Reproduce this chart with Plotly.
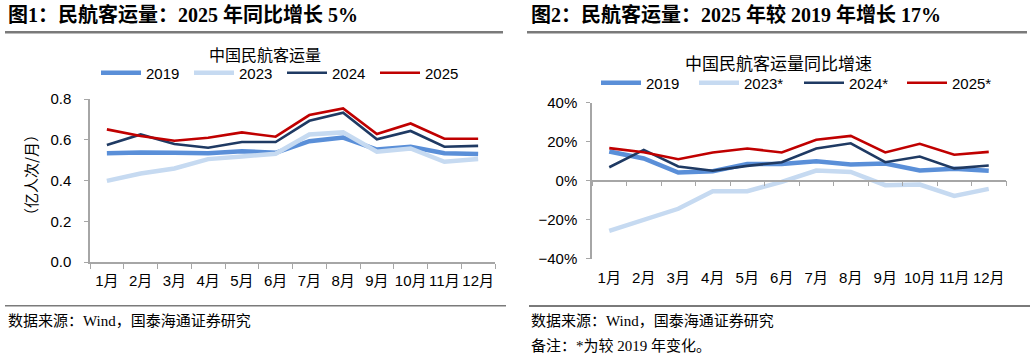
import plotly.graph_objects as go

months = ["1月", "2月", "3月", "4月", "5月", "6月", "7月", "8月", "9月", "10月", "11月", "12月"]

# 图1: 民航客运量 (亿人次/月)
vol_2019 = [0.534, 0.538, 0.536, 0.534, 0.544, 0.536, 0.593, 0.611, 0.552, 0.566, 0.534, 0.530]
vol_2023 = [0.398, 0.434, 0.459, 0.505, 0.518, 0.531, 0.626, 0.636, 0.541, 0.557, 0.492, 0.505]
vol_2024 = [0.574, 0.626, 0.579, 0.561, 0.589, 0.589, 0.693, 0.733, 0.602, 0.643, 0.566, 0.570]
vol_2025 = [0.651, 0.618, 0.595, 0.610, 0.636, 0.615, 0.721, 0.754, 0.628, 0.680, 0.605, 0.605]

# 图2: 同比增速 (%)
yoy_2019 = [14.9, 11.3, 4.1, 4.8, 8.4, 8.5, 9.9, 8.2, 8.7, 5.1, 6.0, 5.0]
yoy_2023 = [-25.8, -20.0, -14.5, -5.5, -5.5, -0.7, 5.1, 4.4, -2.4, -2.1, -7.9, -4.3]
yoy_2024 = [6.8, 15.7, 7.2, 5.0, 7.5, 9.4, 16.4, 19.1, 9.4, 12.3, 6.2, 7.7]
yoy_2025 = [16.6, 14.5, 10.9, 14.4, 16.4, 14.4, 20.9, 22.9, 14.4, 18.8, 13.2, 14.7]

names_left = ["2019", "2023", "2024", "2025"]
names_right = ["2019", "2023*", "2024*", "2025*"]
colors = ["#5A8FD8", "#C6DAF1", "#1F3A63", "#C00000"]
widths = [4.5, 4.5, 2.6, 2.6]
# legend entry widths (px) so the items sit where the reference puts them
legw_left = [38, 38, 38, 38]
legw_right = [43, 50, 48, 48]

W, H = 1032, 357
def px(x):
    return x / W
def py(y):
    return 1 - y / H

SANS = "Liberation Sans, Arial, Noto Sans CJK SC"
SERIF_B = "Liberation Serif, Times New Roman, Noto Sans CJK SC"
CJK = "Noto Sans CJK SC"
AXIS_GREY = "#A6A6A6"
RULE_GREY = "#7A7A7A"

fig = go.Figure()

left_series = [vol_2019, vol_2023, vol_2024, vol_2025]
right_series = [yoy_2019, yoy_2023, yoy_2024, yoy_2025]

for name, vals, c, w, lw in zip(names_left, left_series, colors, widths, legw_left):
    fig.add_trace(go.Scatter(x=months, y=vals, name=name, mode="lines",
                             line=dict(color=c, width=w), xaxis="x", yaxis="y",
                             legend="legend", legendwidth=lw))
for name, vals, c, w, lw in zip(names_right, right_series, colors, widths, legw_right):
    fig.add_trace(go.Scatter(x=months, y=vals, name=name, mode="lines",
                             line=dict(color=c, width=w), xaxis="x2", yaxis="y2",
                             legend="legend2", legendwidth=lw))
# empty trace so the zero-line axis of the right chart is drawn
fig.add_trace(go.Scatter(x=[], y=[], xaxis="x3", yaxis="y2", showlegend=False,
                         hoverinfo="skip"))

ldom_x = [px(90), px(495)]
ldom_y = [py(262), py(99)]
rdom_x = [px(592), px(1006)]
rdom_y = [py(258.5), py(102.5)]

tickfont = dict(family=SANS, size=15, color="#000000")

fig.update_layout(
    width=W, height=H,
    margin=dict(l=0, r=0, t=0, b=0, autoexpand=False),
    paper_bgcolor="white", plot_bgcolor="white",
    xaxis=dict(domain=ldom_x, anchor="y", type="category", range=[-0.5, 11.5],
               tickson="boundaries", ticks="outside", ticklen=5, tickcolor=AXIS_GREY,
               showline=True, linecolor=AXIS_GREY, linewidth=1.5, showgrid=False,
               tickfont=tickfont, tickangle=0, ticklabelstandoff=4, automargin=False),
    yaxis=dict(domain=ldom_y, anchor="x", range=[0, 0.8], dtick=0.2, tickformat=".1f",
               ticks="outside", ticklen=4, tickcolor=AXIS_GREY, showline=True,
               linecolor=AXIS_GREY, linewidth=1.5, showgrid=False, zeroline=False,
               tickfont=tickfont, ticklabelstandoff=10, automargin=False),
    xaxis2=dict(domain=rdom_x, anchor="y2", type="category", range=[-0.5, 11.5],
                ticks="", showline=False, showgrid=False, tickfont=tickfont,
                tickangle=0, ticklabelstandoff=8, automargin=False),
    xaxis3=dict(overlaying="x2", anchor="free",
                position=rdom_y[0] + 0.5 * (rdom_y[1] - rdom_y[0]),
                type="linear", range=[-0.5, 11.5],
                tickvals=[i - 0.5 for i in range(len(months) + 1)],
                ticks="outside", ticklen=5, tickcolor=AXIS_GREY, showticklabels=False,
                showline=True, linecolor=AXIS_GREY, linewidth=1.5, showgrid=False,
                zeroline=False, automargin=False),
    yaxis2=dict(domain=rdom_y, anchor="x2", range=[-40, 40], dtick=20, ticksuffix="%",
                ticks="outside", ticklen=4, tickcolor=AXIS_GREY, showline=True,
                linecolor=AXIS_GREY, linewidth=1.5, showgrid=False, zeroline=False,
                tickfont=tickfont, ticklabelstandoff=6, automargin=False),
    legend=dict(orientation="h", x=px(96), y=py(73), xanchor="left", yanchor="middle",
                font=dict(family=SANS, size=15, color="#000000"),
                bgcolor="rgba(0,0,0,0)", itemwidth=40, entrywidthmode="pixels"),
    legend2=dict(orientation="h", x=px(596), y=py(83), xanchor="left", yanchor="middle",
                 font=dict(family=SANS, size=15, color="#000000"),
                 bgcolor="rgba(0,0,0,0)", itemwidth=40, entrywidthmode="pixels"),
    showlegend=True,
)

annotations = [
    dict(text="<b>图1：民航客运量：2025 年同比增长 5%</b>", x=px(6), y=py(15),
         xanchor="left", yanchor="middle", font=dict(family=SERIF_B, size=20, color="#000")),
    dict(text="<b>图2：民航客运量：2025 年较 2019 年增长 17%</b>", x=px(529), y=py(15),
         xanchor="left", yanchor="middle", font=dict(family=SERIF_B, size=20, color="#000")),
    dict(text="中国民航客运量", x=px(265), y=py(54), xanchor="center", yanchor="middle",
         font=dict(family=CJK, size=16, color="#000")),
    dict(text="中国民航客运量同比增速", x=px(778), y=py(62), xanchor="center", yanchor="middle",
         font=dict(family=CJK, size=17, color="#000")),
    dict(text="（亿人次/月）", x=px(30), y=py(175), xanchor="center", yanchor="middle",
         textangle=-90, font=dict(family=CJK, size=15, color="#000")),
    dict(text="数据来源：Wind，国泰海通证券研究", x=px(6), y=py(321),
         xanchor="left", yanchor="middle", font=dict(family=SERIF_B, size=15, color="#000")),
    dict(text="数据来源：Wind，国泰海通证券研究", x=px(529), y=py(321),
         xanchor="left", yanchor="middle", font=dict(family=SERIF_B, size=15, color="#000")),
    dict(text="备注：*为较 2019 年变化。", x=px(529), y=py(345),
         xanchor="left", yanchor="middle", font=dict(family=SERIF_B, size=15, color="#000")),
]
for a in annotations:
    a.update(xref="paper", yref="paper", showarrow=False, bgcolor="rgba(0,0,0,0)")
fig.update_layout(annotations=annotations)

# rules under the headers and above the source notes (drawn as thin filled bands)
rules = [
    (5, 503, 31, 33.5, RULE_GREY),
    (527, 1027, 31, 33.5, RULE_GREY),
    (5, 506, 305, 306.5, RULE_GREY),
    (529, 1030, 305, 307, RULE_GREY),
]
shapes = []
for x0, x1, y0, y1, c in rules:
    shapes.append(dict(type="rect", xref="paper", yref="paper",
                       x0=px(x0), x1=px(x1), y0=py(y1), y1=py(y0),
                       fillcolor=c, line=dict(width=0), layer="above"))
fig.update_layout(shapes=shapes)

post = ("var gd=document.getElementById('{plot_id}');"
        "gd.style.position='fixed';gd.style.top='0px';gd.style.left='0px';"
        "document.body.style.margin='0';document.body.style.padding='0';"
        "document.documentElement.style.overflow='hidden';"
        "document.body.style.overflow='hidden';")
fig.write_html("out.html", post_script=post, config={"displayModeBar": False})
